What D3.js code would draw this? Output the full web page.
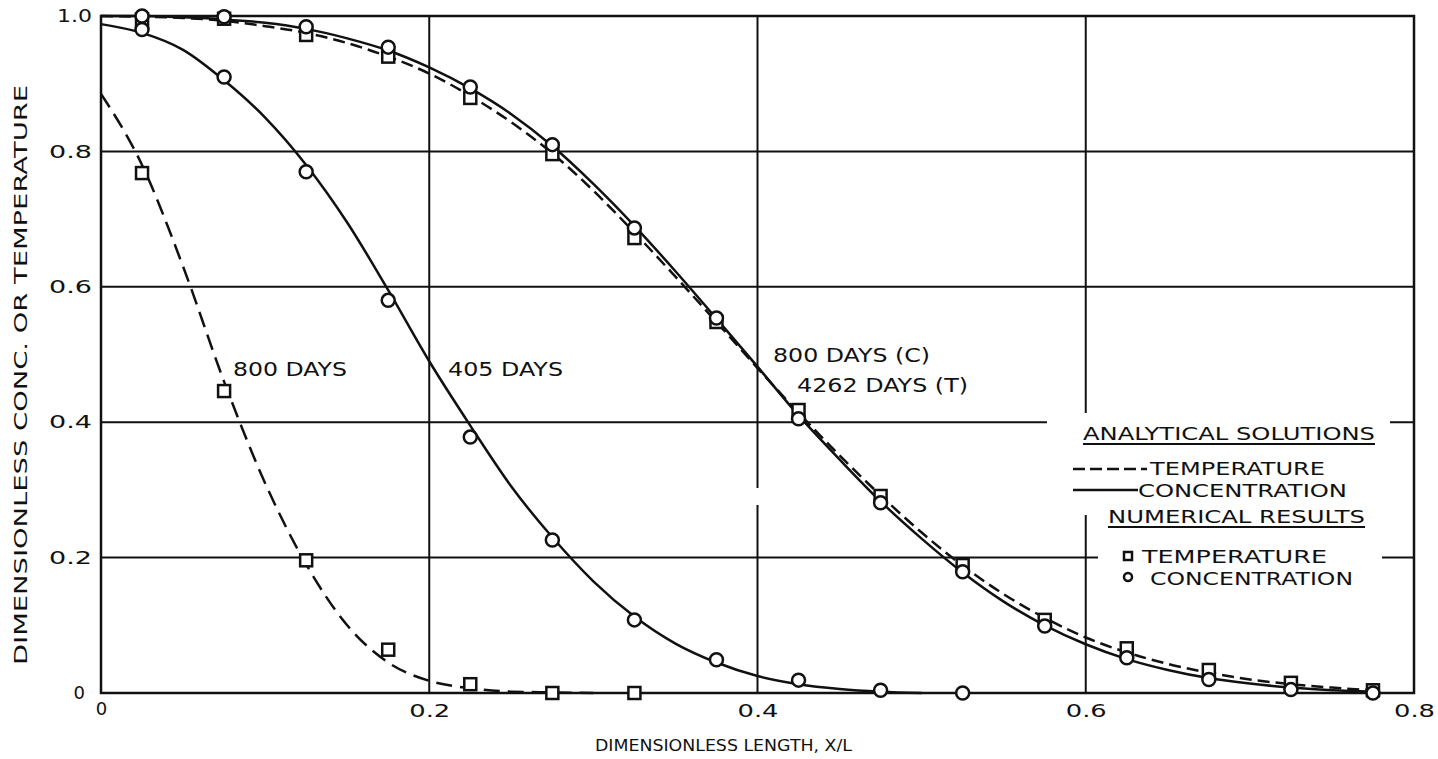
<!DOCTYPE html>
<html>
<head>
<meta charset="utf-8">
<script src="https://cdn.jsdelivr.net/npm/d3@7"></script>
<style>
  body { margin: 0; background: #fff; }
  svg { display: block; font-family: "DejaVu Sans", sans-serif; }
  text { fill: #111; }
</style>
</head>
<body>
<div id="chart"></div>
<script>
// Analytical curves: x positions along the column and values
const curveX = [0, 0.025, 0.05, 0.075, 0.1, 0.125, 0.15, 0.175, 0.2, 0.225, 0.25, 0.275, 0.3,
    0.325, 0.35, 0.375, 0.4, 0.425, 0.45, 0.475, 0.5, 0.525, 0.55, 0.575, 0.6, 0.625, 0.65,
    0.675, 0.7, 0.725, 0.75, 0.775];
const temp800Curve = [0.885, 0.78, 0.63, 0.46, 0.31, 0.19, 0.1, 0.045, 0.018, 0.007, 0.002, 0.001, 0];
const conc405Curve = [0.988, 0.975, 0.95, 0.905, 0.85, 0.78, 0.695, 0.595, 0.49, 0.395, 0.305, 0.23,
    0.165, 0.113, 0.073, 0.045, 0.025, 0.013, 0.006, 0.002, 0];
const conc800Curve = [1.0, 1.0, 0.998, 0.995, 0.99, 0.981, 0.967, 0.949, 0.924, 0.893, 0.855, 0.808,
    0.752, 0.69, 0.623, 0.553, 0.482, 0.41, 0.345, 0.283, 0.228, 0.178, 0.135, 0.1, 0.072, 0.05,
    0.034, 0.022, 0.014, 0.008, 0.004, 0.002];
const temp4262Curve = [1.0, 0.999, 0.997, 0.993, 0.985, 0.975, 0.96, 0.94, 0.915, 0.882, 0.843, 0.797,
    0.742, 0.68, 0.615, 0.548, 0.48, 0.414, 0.351, 0.292, 0.237, 0.188, 0.146, 0.111, 0.082, 0.06,
    0.043, 0.03, 0.02, 0.013, 0.008, 0.004];

// Numerical results (markers)
const markerX = [0.025, 0.075, 0.125, 0.175, 0.225, 0.275, 0.325, 0.375, 0.425, 0.475, 0.525,
    0.575, 0.625, 0.675, 0.725, 0.775];
const temp800Pts = [0.768, 0.446, 0.196, 0.064, 0.013, 0.0, 0.0];
const conc405Pts = [0.98, 0.91, 0.77, 0.58, 0.378, 0.226, 0.108, 0.049, 0.019, 0.004, 0.0];
const conc800Pts = [1.0, 0.999, 0.984, 0.954, 0.895, 0.81, 0.687, 0.554, 0.405, 0.281, 0.179,
    0.099, 0.052, 0.02, 0.005, 0.0];
const temp4262Pts = [0.995, 0.996, 0.972, 0.94, 0.879, 0.796, 0.672, 0.548, 0.418, 0.291, 0.189,
    0.108, 0.066, 0.034, 0.015, 0.004];

// Axis ticks
const xTicks = [0, 0.2, 0.4, 0.6, 0.8];
const yTicks = [0, 0.2, 0.4, 0.6, 0.8, 1.0];

const width = 1438, height = 759;
const svg = d3.select('#chart').append('svg')
    .attr('width', width)
    .attr('height', height);

const x = d3.scaleLinear().domain([0, 0.8]).range([101, 1414]);
const y = d3.scaleLinear().domain([0, 1]).range([693, 16]);

// Grid lines
const grid = svg.append('g').attr('stroke', '#111').attr('stroke-width', 2);
grid.selectAll('line.v')
    .data(xTicks.slice(1, 4))
    .enter().append('line')
    .attr('x1', d => x(d)).attr('x2', d => x(d))
    .attr('y1', y(1)).attr('y2', y(0));
grid.selectAll('line.h')
    .data(yTicks.slice(1, 5))
    .enter().append('line')
    .attr('x1', x(0)).attr('x2', x(0.8))
    .attr('y1', d => y(d)).attr('y2', d => y(d));

// Blank areas around the legend text (gaps in the grid)
svg.append('rect').attr('x', 1047).attr('y', 413).attr('width', 343).attr('height', 102).attr('fill', '#fff');
svg.append('rect').attr('x', 1098).attr('y', 515).attr('width', 284).attr('height', 85).attr('fill', '#fff');
svg.append('rect').attr('x', x(0.4) - 5).attr('y', 488).attr('width', 10).attr('height', 17).attr('fill', '#fff');

// Frame
svg.append('rect')
    .attr('x', x(0)).attr('y', y(1))
    .attr('width', x(0.8) - x(0)).attr('height', y(0) - y(1))
    .attr('fill', 'none').attr('stroke', '#111').attr('stroke-width', 2.5);

// Axes (labels only)
const fmt = d => d === 0 ? '0' : d3.format('.1f')(d);
const xAxis = svg.append('g')
    .attr('transform', `translate(0,${y(0)})`)
    .call(d3.axisBottom(x).tickValues(xTicks).tickSize(0).tickPadding(11).tickFormat(fmt));
xAxis.select('.domain').remove();
xAxis.selectAll('text')
    .attr('font-size', 18).attr('fill', '#111')
    .attr('font-family', '"DejaVu Sans", sans-serif')
    .attr('textLength', d => d === 0 ? null : 41)
    .attr('lengthAdjust', 'spacingAndGlyphs')
    .attr('dy', d => d === 0 ? '0.6em' : '0.71em');

const yAxis = svg.append('g')
    .attr('transform', `translate(${x(0)},0)`)
    .call(d3.axisLeft(y).tickValues(yTicks).tickSize(0).tickPadding(9).tickFormat(fmt));
yAxis.select('.domain').remove();
yAxis.selectAll('text')
    .attr('font-size', 18).attr('fill', '#111')
    .attr('font-family', '"DejaVu Sans", sans-serif')
    .attr('textLength', d => d === 0 ? null : (d === 1 ? 35 : 43))
    .attr('lengthAdjust', 'spacingAndGlyphs')
    .attr('x', d => d === 0 ? -16 : -9);

// Axis titles
svg.append('text')
    .attr('x', 595).attr('y', 751)
    .attr('font-size', 16)
    .attr('textLength', 257).attr('lengthAdjust', 'spacingAndGlyphs')
    .text('DIMENSIONLESS LENGTH, X/L');
svg.append('text')
    .attr('transform', 'translate(27,665) rotate(-90)')
    .attr('font-size', 18)
    .attr('textLength', 580).attr('lengthAdjust', 'spacingAndGlyphs')
    .text('DIMENSIONLESS CONC. OR TEMPERATURE');

// Curves
const line = d3.line()
    .x(d => x(d[0]))
    .y(d => y(d[1]))
    .curve(d3.curveMonotoneX);
const pairs = vals => vals.map((v, i) => [curveX[i], v]);

const curves = [
    { vals: temp800Curve, dash: '16,8' },
    { vals: conc405Curve, dash: null },
    { vals: temp4262Curve, dash: '12,6' },
    { vals: conc800Curve, dash: null }
];
svg.append('g').selectAll('path')
    .data(curves)
    .enter().append('path')
    .attr('d', d => line(pairs(d.vals)))
    .attr('fill', 'none')
    .attr('stroke', '#111')
    .attr('stroke-width', 2.5)
    .attr('stroke-dasharray', d => d.dash);

// Markers: squares (temperature) then circles (concentration)
const sq = 12;
const squares = temp800Pts.map((v, i) => [markerX[i], v])
    .concat(temp4262Pts.map((v, i) => [markerX[i], v]));
svg.append('g').selectAll('rect')
    .data(squares)
    .enter().append('rect')
    .attr('x', d => x(d[0]) - sq / 2)
    .attr('y', d => y(d[1]) - sq / 2)
    .attr('width', sq).attr('height', sq)
    .attr('fill', '#fff').attr('stroke', '#111').attr('stroke-width', 2.5);

const circles = conc405Pts.map((v, i) => [markerX[i], v])
    .concat(conc800Pts.map((v, i) => [markerX[i], v]));
svg.append('g').selectAll('circle')
    .data(circles)
    .enter().append('circle')
    .attr('cx', d => x(d[0]))
    .attr('cy', d => y(d[1]))
    .attr('r', 6.5)
    .attr('fill', '#fff').attr('stroke', '#111').attr('stroke-width', 2.5);

// Curve labels
const labels = [
    { t: '800 DAYS', x: 233, y: 376, len: 114 },
    { t: '405 DAYS', x: 448, y: 376, len: 115 },
    { t: '800 DAYS (C)', x: 773, y: 362, len: 157 },
    { t: '4262 DAYS (T)', x: 797, y: 392, len: 171 }
];
svg.append('g').selectAll('text')
    .data(labels)
    .enter().append('text')
    .attr('x', d => d.x).attr('y', d => d.y)
    .attr('font-size', 20)
    .attr('textLength', d => d.len).attr('lengthAdjust', 'spacingAndGlyphs')
    .text(d => d.t);

// Legend
const lg = svg.append('g');
const legendText = [
    { t: 'ANALYTICAL SOLUTIONS', x: 1083, y: 440, len: 292, u: true },
    { t: 'TEMPERATURE', x: 1150, y: 475, len: 175 },
    { t: 'CONCENTRATION', x: 1138, y: 497, len: 209 },
    { t: 'NUMERICAL RESULTS', x: 1108, y: 523, len: 257, u: true },
    { t: 'TEMPERATURE', x: 1142, y: 563, len: 185 },
    { t: 'CONCENTRATION', x: 1150, y: 585, len: 203 }
];
lg.selectAll('text')
    .data(legendText)
    .enter().append('text')
    .attr('x', d => d.x).attr('y', d => d.y)
    .attr('font-size', 18)
    .attr('textLength', d => d.len).attr('lengthAdjust', 'spacingAndGlyphs')
    .text(d => d.t);
lg.selectAll('line.u')
    .data(legendText.filter(d => d.u))
    .enter().append('line')
    .attr('x1', d => d.x).attr('x2', d => d.x + d.len)
    .attr('y1', d => d.y + 4).attr('y2', d => d.y + 4)
    .attr('stroke', '#111').attr('stroke-width', 2);
lg.append('line')
    .attr('x1', 1073).attr('x2', 1147).attr('y1', 469).attr('y2', 469)
    .attr('stroke', '#111').attr('stroke-width', 2.5).attr('stroke-dasharray', '12,5');
lg.append('line')
    .attr('x1', 1073).attr('x2', 1138).attr('y1', 490).attr('y2', 490)
    .attr('stroke', '#111').attr('stroke-width', 2.5);
lg.append('rect')
    .attr('x', 1124).attr('y', 552).attr('width', 8).attr('height', 8)
    .attr('fill', '#fff').attr('stroke', '#111').attr('stroke-width', 2.5);
lg.append('circle')
    .attr('cx', 1128).attr('cy', 577).attr('r', 4)
    .attr('fill', '#fff').attr('stroke', '#111').attr('stroke-width', 2.5);
</script>
</body>
</html>
